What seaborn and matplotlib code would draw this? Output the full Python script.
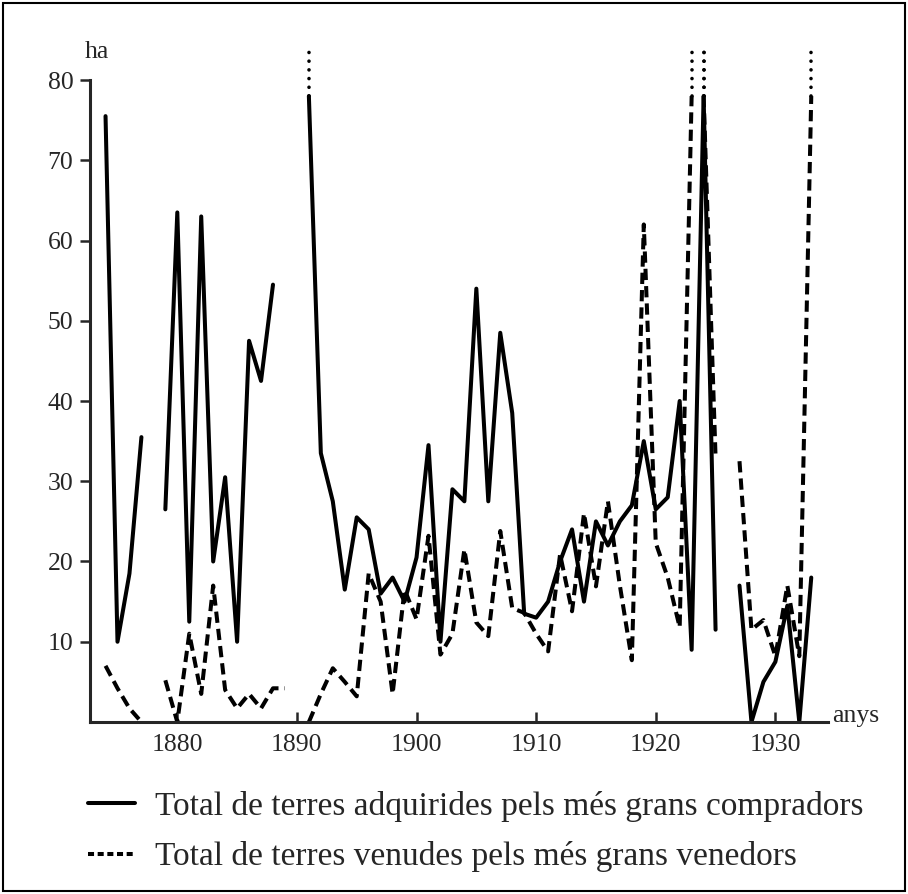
import numpy as np
import pandas as pd
import matplotlib
matplotlib.use("Agg")
import matplotlib.pyplot as plt
from matplotlib.lines import Line2D
from matplotlib.patches import Rectangle
import seaborn as sns

# --- Dades (llegides del gràfic; inf = fora d'escala, nan = sense dada) ---
OFF = np.inf
anys = list(range(1874, 1934))
compradors = [75.5, 10, 18.5, 35.5, np.nan,
              26.5, 63.5, 12.5, 63, 20,
              30.5, 10, 47.5, 42.5, 54.5,
              np.nan, np.nan, OFF, 33.5, 27.5,
              16.5, 25.5, 24, 16, 18,
              15, 20.5, 34.5, 10, 29,
              27.5, 54, 27.5, 48.5, 38.5,
              13.5, 13, 15, 20, 24,
              15, 25, 22, 25, 27,
              35, 26.5, 28, 40, 9,
              OFF, 11.5, np.nan, 17, 0,
              5, 7.5, 14.5, 0, 18]
venedors = [7, 4.2, 1.7, 0, np.nan,
            5.2, 0, 11, 3.5, 17,
            4, 1.7, 3.5, 1.7, 4.2,
            4.2, np.nan, 0, 3.5, 6.7,
            5, 3.2, 18.5, 15, 3.5,
            16.5, 12.8, 23.2, 8.4, 11,
            21.5, 12.4, 10.7, 23.8, 14.2,
            13.6, 11, 8.8, 20.9, 13.8,
            26, 16.9, 27.5, 17, 7.7,
            62, 22.3, 18, 11.8, OFF,
            OFF, 33, np.nan, 32.5, 11.5,
            12.7, 8.2, 17, 8.2, OFF]
etiquetes = ["Total de terres adquirides pels més grans compradors",
             "Total de terres venudes pels més grans venedors"]
ticks_x = [1880, 1890, 1900, 1910, 1920, 1930]
ticks_y = [10, 20, 30, 40, 50, 60, 70, 80]

CAP = 78      # on s'acaba la línia quan el valor surt d'escala
PUNTS = 83.5  # fins on arriben els punts de continuació
LW = 2.9
TRATS = (0, (2.8, 1.5))


def dibuixa(ax, valors, estil):
    df = pd.DataFrame({"any": anys, "valor": valors})
    fora = df["valor"] > 80
    # tall on falta la dada o entre dos valors seguits fora d'escala
    df["tram"] = (df["valor"].isna() | (fora & fora.shift(fill_value=False))).cumsum()
    df = df.dropna()
    df["dibuix"] = df["valor"].clip(upper=CAP)
    for _, tram in df.groupby("tram"):
        sns.lineplot(data=tram, x="any", y="dibuix", ax=ax, color="black",
                     lw=LW, linestyle=estil, estimator=None, legend=False)
    # continuació puntejada dels valors fora d'escala
    for a in df.loc[df["valor"] > 80, "any"]:
        ax.plot([a, a], [CAP, PUNTS], color="black", lw=2.6,
                linestyle=(0, (0.01, 2.4)), dash_capstyle="round", clip_on=False)


def main():
    sns.set_style("ticks")
    plt.rcParams["font.family"] = ["Liberation Serif", "DejaVu Serif"]

    fig = plt.figure(figsize=(9.08, 8.94), dpi=100)
    ax = fig.add_axes([0.0991, 0.1924, 0.8128, 0.7181])

    dibuixa(ax, compradors, "-")
    dibuixa(ax, venedors, TRATS)

    ax.set_xlim(1872.7, 1934.4)
    ax.set_ylim(0, 80)
    ax.set_xticks(ticks_x)
    ax.set_yticks(ticks_y)
    ax.set_xlabel("")
    ax.set_ylabel("")
    ax.tick_params(axis="x", direction="in", length=7, width=1.8, pad=9, labelsize=18.5)
    ax.tick_params(axis="y", direction="out", length=7, width=1.8, pad=5, labelsize=18.5)
    for s in ["top", "right"]:
        ax.spines[s].set_visible(False)
    for s in ["left", "bottom"]:
        ax.spines[s].set_linewidth(2.2)

    ax.text(-0.007, 1.044, "ha", transform=ax.transAxes, ha="left", va="center", fontsize=18.5)
    ax.text(1.005, 0, "anys", transform=ax.transAxes, ha="left", va="baseline", fontsize=18.5)

    maneres = [Line2D([], [], color="black", lw=LW, linestyle="-"),
               Line2D([], [], color="black", lw=LW, linestyle=(0, (1.5, 0.9)))]
    fig.legend(maneres, etiquetes, loc="upper left", bbox_to_anchor=(88 / 908, 1 - 791 / 894),
               frameon=False, fontsize=24, handlelength=1.4, handletextpad=0.6,
               labelspacing=0.58, borderpad=0, borderaxespad=0)

    fig.patches.append(Rectangle((0.003, 0.003), 0.994, 0.994, transform=fig.transFigure,
                                 fill=False, edgecolor="black", lw=1.5))

    fig.savefig("out.png", dpi=100)


if __name__ == "__main__":
    main()
